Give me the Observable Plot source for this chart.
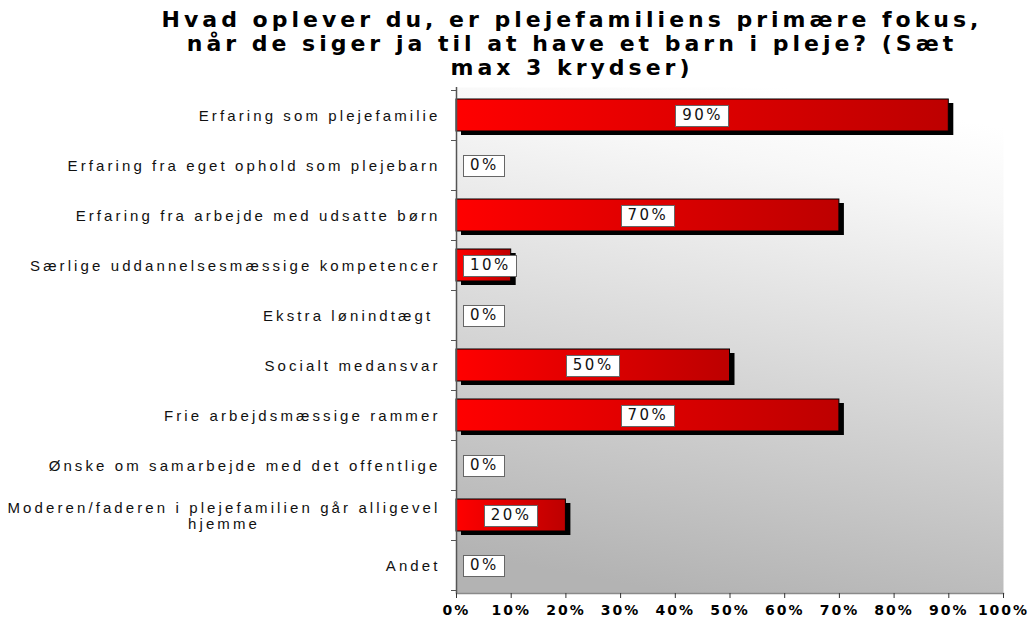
<!DOCTYPE html>
<html><head><meta charset="utf-8">
<script src="https://cdn.jsdelivr.net/npm/d3@7"></script>
<script src="https://cdn.jsdelivr.net/npm/@observablehq/plot@0.6"></script>
<style>
body{margin:0;background:#fff;width:1032px;height:621px;overflow:hidden}
#title{box-sizing:border-box;height:86px;padding-top:8px;padding-left:112px;text-align:center;font-family:"DejaVu Sans";font-weight:bold;font-size:22px;line-height:24px;letter-spacing:4px;white-space:nowrap;color:#000}
#chart svg{display:block}
g[aria-label="y-axis tick label"]{letter-spacing:3.1px}
g[aria-label="x-axis tick label"]{letter-spacing:2px}
g[aria-label="text"]{letter-spacing:2.5px}
</style></head><body>
<div id="title">Hvad oplever du, er plejefamiliens primære fokus,<br>når de siger ja til at have et barn i pleje? (Sæt<br>max 3 krydser)</div>
<div id="chart"></div>
<script>
const categories = [
  "Erfaring som plejefamilie",
  "Erfaring fra eget ophold som plejebarn",
  "Erfaring fra arbejde med udsatte børn",
  "Særlige uddannelsesmæssige kompetencer",
  "Ekstra lønindtægt",
  "Socialt medansvar",
  "Frie arbejdsmæssige rammer",
  "Ønske om samarbejde med det offentlige",
  "Moderen/faderen i plejefamilien går alligevel hjemme",
  "Andet"
];
const tickLabels = [
  "Erfaring som plejefamilie",
  "Erfaring fra eget ophold som plejebarn",
  "Erfaring fra arbejde med udsatte børn",
  "Særlige uddannelsesmæssige kompetencer",
  "Ekstra lønindtægt ",
  "Socialt medansvar",
  "Frie arbejdsmæssige rammer",
  "Ønske om samarbejde med det offentlige",
  "Moderen/faderen i plejefamilien går alligevel\nhjemme",
  "Andet"
];
const values = [90, 0, 70, 10, 0, 50, 70, 0, 20, 0];
const valueLabels = ["90%", "0%", "70%", "10%", "0%", "50%", "70%", "0%", "20%", "0%"];
const xTicks = [0, 10, 20, 30, 40, 50, 60, 70, 80, 90, 100];

const data = categories.map((c, i) => ({category: c, value: values[i], label: valueLabels[i]}));

const defsMark = () => {
  const d = d3.create("svg:defs");
  const bg = d.append("linearGradient").attr("id", "bgGrad")
    .attr("x1", "0.6").attr("y1", "0").attr("x2", "0.4").attr("y2", "1");
  bg.append("stop").attr("offset", "0").attr("stop-color", "#ffffff");
  bg.append("stop").attr("offset", "0.15").attr("stop-color", "#f7f7f7");
  bg.append("stop").attr("offset", "1").attr("stop-color", "#b3b3b3");
  const red = d.append("linearGradient").attr("id", "redGrad")
    .attr("x1", "0").attr("y1", "0").attr("x2", "1").attr("y2", "0");
  red.append("stop").attr("offset", "0").attr("stop-color", "#ff0000");
  red.append("stop").attr("offset", "1").attr("stop-color", "#bd0000");
  return d.node();
};

const boundaryTicks = (index, scales, values, dims) => {
  const y = scales.y;
  const bw = y.bandwidth();
  const step = y.step ? y.step() : bw;
  const half = (step - bw) / 2;
  const bounds = categories.map(c => y(c) - half);
  bounds.push(y(categories[categories.length - 1]) + bw + half);
  const g = d3.create("svg:g").attr("stroke", "#555").attr("stroke-width", 1);
  g.selectAll("line").data(bounds).join("line")
    .attr("x1", dims.marginLeft - 5).attr("x2", dims.marginLeft)
    .attr("y1", d => Math.round(d) + 0.5).attr("y2", d => Math.round(d) + 0.5);
  return g.node();
};

const plot = Plot.plot({
  width: 1032,
  height: 535,
  marginTop: 1,
  marginBottom: 28,
  marginLeft: 456,
  marginRight: 29,
  style: {background: "transparent", overflow: "visible"},
  x: {domain: [0, 100], label: null},
  y: {domain: categories, paddingInner: 0.37, paddingOuter: 0.185, label: null},
  marks: [
    defsMark,
    Plot.frame({fill: "url(#bgGrad)", stroke: null}),
    Plot.barX(data, {filter: d => d.value > 0, x: "value", y: "category", fill: "#000", dx: 5, dy: 4}),
    Plot.barX(data, {filter: d => d.value > 0, x: "value", y: "category", fill: "url(#redGrad)", stroke: "#000", strokeWidth: 1}),
    Plot.frame({anchor: "bottom", stroke: "#8a8a8a", strokeWidth: 1.5}),
    Plot.ruleX([0], {stroke: "#555", strokeWidth: 1.5}),
    boundaryTicks,
    Plot.axisY({tickSize: 0, tickPadding: 16, fontSize: 15, lineHeight: 1.1, fontFamily: "Liberation Sans", fill: "#111",
      tickFormat: d => tickLabels[categories.indexOf(d)]}),
    Plot.axisX({ticks: xTicks, tickFormat: d => d + "%", tickSize: 5, tickPadding: 7, stroke: "#333",
      fontSize: 14, fontWeight: "bold", fontFamily: "DejaVu Sans", fill: "#000"}),
    Plot.text(data, {x: d => d.value / 2, y: "category", text: "label", fontSize: 15,
      fontFamily: "DejaVu Sans", fill: "#111"})
  ]
});

document.getElementById("chart").append(plot);

// center the multi-line category label's lines on one another
plot.querySelectorAll('g[aria-label="y-axis tick label"] text').forEach(t => {
  const spans = t.querySelectorAll("tspan");
  if (spans.length > 1) {
    const w = Math.max(...Array.from(spans, s => s.getComputedTextLength()));
    t.setAttribute("text-anchor", "middle");
    spans.forEach(s => s.setAttribute("x", -w / 2));
  }
});

// white label boxes behind value labels, kept inside the plot area
const ns = "http://www.w3.org/2000/svg";
const svgRect = plot.getBoundingClientRect();
const textGroup = plot.querySelector('g[aria-label="text"]');
const boxG = document.createElementNS(ns, "g");
textGroup.parentNode.insertBefore(boxG, textGroup);
const minLeft = 456 + 7;
textGroup.querySelectorAll("text").forEach(t => {
  let r = t.getBoundingClientRect();
  const padL = 7, padR = 5;
  const left = r.left - svgRect.left - padL;
  if (left < minLeft) {
    t.setAttribute("transform", (t.getAttribute("transform") || "") + ` translate(${minLeft - left},0)`);
    r = t.getBoundingClientRect();
  }
  const rect = document.createElementNS(ns, "rect");
  rect.setAttribute("x", Math.round(r.left - svgRect.left - padL) + 0.5);
  rect.setAttribute("y", Math.round(r.top - svgRect.top - 1.5) + 0.5);
  rect.setAttribute("width", Math.round(r.width + padL + padR));
  rect.setAttribute("height", Math.round(r.height + 3));
  rect.setAttribute("fill", "#fff");
  rect.setAttribute("stroke", "#666");
  rect.setAttribute("stroke-width", 1);
  boxG.appendChild(rect);
});
</script>
</body></html>
